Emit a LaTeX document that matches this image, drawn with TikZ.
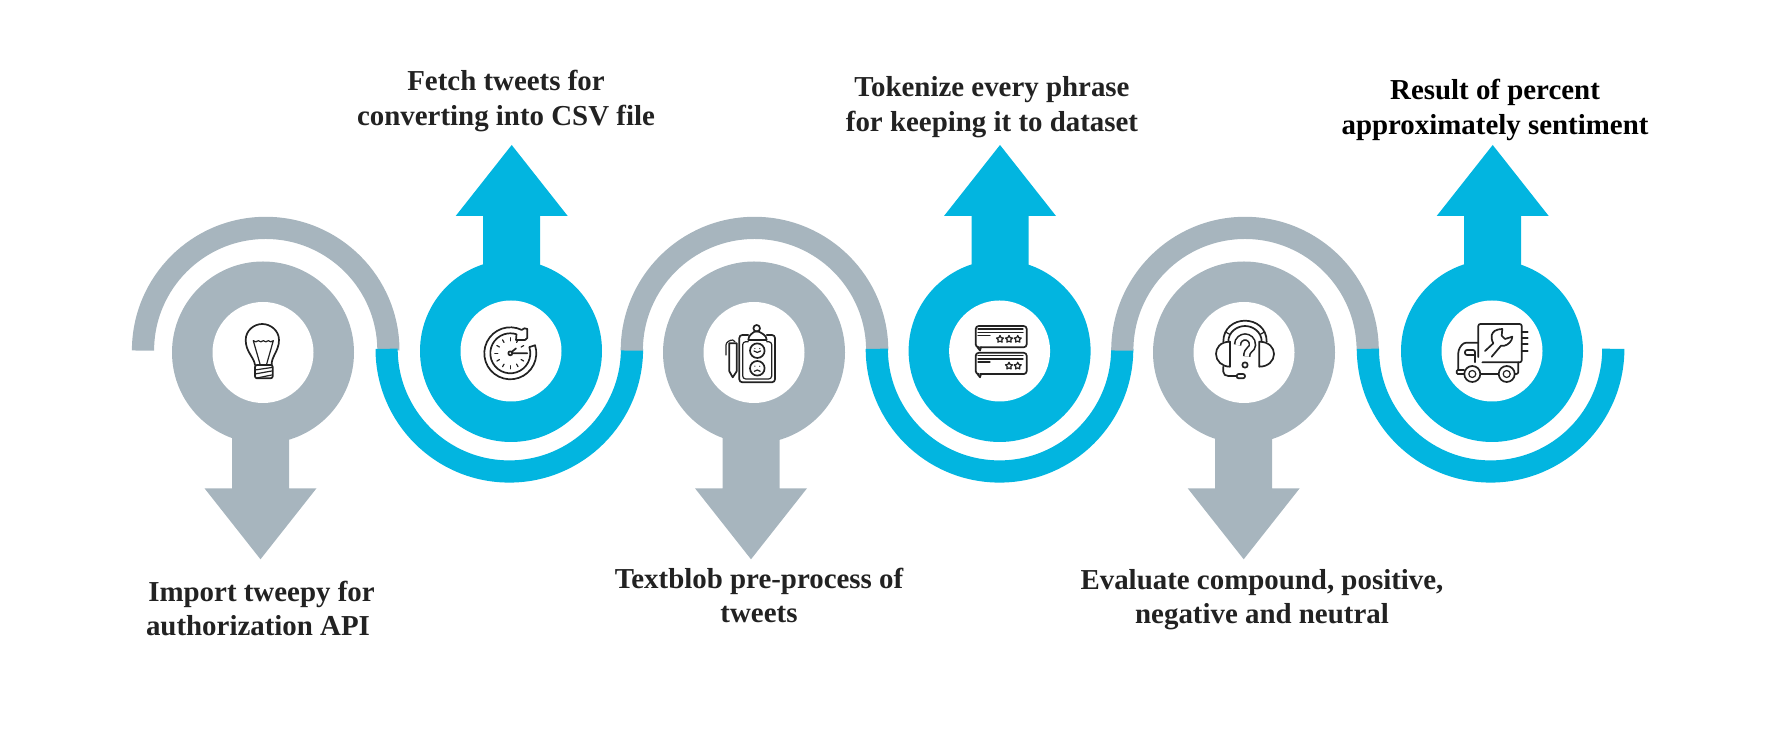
\documentclass[tikz,border=0pt]{standalone}
\usepackage{fontspec}
\setmainfont{Liberation Serif}
\usetikzlibrary{positioning, calc}
\definecolor{slate}{RGB}{167, 181, 190}
\definecolor{sky}{RGB}{2, 181, 224}
\definecolor{ink}{RGB}{34, 34, 34}

\tikzset{
  disc/.style={circle, minimum size=182pt, inner sep=0pt},
  hole/.style={circle, fill=white, minimum size=101pt, inner sep=0pt},
  ring/.style={line width=22.2pt},
  caption/.style={align=center, text=ink, font=\fontsize{28.9}{34.6}\selectfont\bfseries, inner sep=0pt},
  icon/.style={draw=ink, line width=1.7pt, line cap=round, line join=round},
  thinicon/.style={draw=ink, line width=1.2pt, line cap=round, line join=round}
}

\begin{document}
\begin{tikzpicture}[x=1pt, y=1pt]
        \useasboundingbox (0,0) rectangle (1792,733);
        \pgfmathsetmacro{\r}{122.7}

        % Import
        \pgfmathsetmacro{\dx}{263}
        \draw[slate, ring] (265.7 + \r, 382.4) arc (0:180:\r);
        \node[disc, fill=slate] (discA) at (\dx, 380.5) {};
        \fill[slate] (\dx - 2.5 - 28.5, 320) -- (\dx - 2.5 + 28.5, 320) -- (\dx - 2.5 + 28.5, 244.7) -- (\dx - 2.5 + 56, 244.7)
        -- (\dx - 2.5, 173.7) -- (\dx - 2.5 - 56, 244.7) -- (\dx - 2.5 - 28.5, 244.7) -- cycle;
        \node[hole] (holeA) at (discA) {};

        % Fetch
        \pgfmathsetmacro{\dx}{511}
        \draw[sky, ring] (509.3 - \r, 384.2) arc (180:360:\r);
        \node[disc, fill=sky] (discB) at (\dx, 382) {};
        \fill[sky] (\dx + 0.7 - 28.5, 443) -- (\dx + 0.7 + 28.5, 443) -- (\dx + 0.7 + 28.5, 517) -- (\dx + 0.7 + 56, 517)
        -- (\dx + 0.7, 588) -- (\dx + 0.7 - 56, 517) -- (\dx + 0.7 - 28.5, 517) -- cycle;
        \node[hole] (holeB) at (discB) {};

        % Textblob
        \pgfmathsetmacro{\dx}{754}
        \draw[slate, ring] (754.5 + \r, 382.4) arc (0:180:\r);
        \node[disc, fill=slate] (discC) at (\dx, 380.5) {};
        \fill[slate] (\dx - 3 - 28.5, 320) -- (\dx - 3 + 28.5, 320) -- (\dx - 3 + 28.5, 244.7) -- (\dx - 3 + 56, 244.7)
        -- (\dx - 3, 173.7) -- (\dx - 3 - 56, 244.7) -- (\dx - 3 - 28.5, 244.7) -- cycle;
        \node[hole] (holeC) at (discC) {};

        % Tokenize
        \pgfmathsetmacro{\dx}{999.6}
        \draw[sky, ring] (999.5 - \r, 384.2) arc (180:360:\r);
        \node[disc, fill=sky] (discD) at (\dx, 382) {};
        \fill[sky] (\dx + 0.4 - 28.5, 443) -- (\dx + 0.4 + 28.5, 443) -- (\dx + 0.4 + 28.5, 517) -- (\dx + 0.4 + 56, 517)
        -- (\dx + 0.4, 588) -- (\dx + 0.4 - 56, 517) -- (\dx + 0.4 - 28.5, 517) -- cycle;
        \node[hole] (holeD) at (discD) {};

        % Evaluate
        \pgfmathsetmacro{\dx}{1244}
        \draw[slate, ring] (1245 + \r, 382.4) arc (0:180:\r);
        \node[disc, fill=slate] (discE) at (\dx, 380.5) {};
        \fill[slate] (\dx - 0.3 - 28.5, 320) -- (\dx - 0.3 + 28.5, 320) -- (\dx - 0.3 + 28.5, 244.7) -- (\dx - 0.3 + 56, 244.7)
        -- (\dx - 0.3, 173.7) -- (\dx - 0.3 - 56, 244.7) -- (\dx - 0.3 - 28.5, 244.7) -- cycle;
        \node[hole] (holeE) at (discE) {};

        % Result
        \pgfmathsetmacro{\dx}{1492}
        \draw[sky, ring] (1490.6 - \r, 384.2) arc (180:360:\r);
        \node[disc, fill=sky] (discF) at (\dx, 382) {};
        \fill[sky] (\dx + 0.7 - 28.5, 443) -- (\dx + 0.7 + 28.5, 443) -- (\dx + 0.7 + 28.5, 517) -- (\dx + 0.7 + 56, 517)
        -- (\dx + 0.7, 588) -- (\dx + 0.7 - 56, 517) -- (\dx + 0.7 - 28.5, 517) -- cycle;
        \node[hole] (holeF) at (discF) {};

        % Bulb
        \begin{scope}[shift={(263,381)}]
        \draw[icon] (-8,-13) .. controls (-9,-5) and (-17.3,0) .. (-17.3,12) .. controls (-17.3,21.5) and (-9,28) .. (-0.7,28)
        .. controls (7.5,28) and (16,21.5) .. (16,12) .. controls (16,1) and (8,-5) .. (8.7,-13);
        \draw[thinicon] (-3,-12) -- (-9.7,11.3) to[bend right=50] (-4.7,11.3) to[bend right=50] (0.3,11.3) to[bend right=50] (5.3,11.3) to[bend right=50] (10.3,11.3) -- (3.7,-12);
        \draw[icon, rounded corners=2pt] (-8,-13) rectangle (9.7,-26.3);
        \draw[thinicon] (-8,-18) -- (8.7,-15.5) (-8,-22) -- (8.7,-19) (-6,-26) -- (8.7,-23);
        \end{scope}

        % Clock
        \begin{scope}[shift={(511,382)}]
        \draw[icon] (-0.7,-2.3) ++(64:26) arc (64:378:26) -- ++(198:6) arc (378:72:20) -- (5,11) -- (14,11) -- (16.3,13) -- (16.3,22) -- (13.5,22.7) -- cycle;
        \foreach \a in {30,60,...,330}
            \draw[thinicon] (-0.7,-2.3) ++(\a:12.5) -- ++(\a:3);
        \draw[icon] (-0.7,-2.3) circle (2);
        \draw[icon] (1.3,-2.3) -- (16.3,-2.3) (0.7,-0.9) -- (5,2.6);
        \end{scope}

        % Clipboard
        \begin{scope}[shift={(754,381)}]
        \draw[icon, rounded corners=3pt] (-5.7,17) -- (-14.7,17) -- (-14.7,-30.3) -- (21,-30.3) -- (21,17) -- (12.7,17);
        \draw[thinicon, rounded corners=3pt] (-5.7,10.3) -- (-11.3,10.3) -- (-11.3,-27) -- (17.7,-27) -- (17.7,10.3) -- (12.7,10.3);
        \draw[icon] (-5.7,12) .. controls (-5.7,17) and (-1,19) .. (0,20) .. controls (1,21) and (4,21) .. (5.5,20) .. controls (7,19) and (12.7,17) .. (12.7,12) -- cycle;
        \draw[icon] (2.7,23.7) circle (3.3);
        \draw[icon] (3.3,1.3) circle (7.3);
        \draw[icon] (3.3,-16.3) circle (7.3);
        \draw[thinicon] (0,1) to[bend right=50] (6.6,1) (0.8,3.4) -- (0.9,3.4) (5.7,3.4) -- (5.8,3.4);
        \draw[thinicon] (0.4,-19.3) to[bend left=50] (6.2,-19.3) (0.8,-14.2) -- (0.9,-14.2) (5.7,-14.2) -- (5.8,-14.2);
        \draw[icon] (-24.7,8.7) -- (-24.7,-19.3) -- (-21.3,-25.3) -- (-17.3,-19.3) -- (-17.3,8.7) -- cycle;
        \draw[thinicon] (-28,-3) -- (-28,7) .. controls (-28,10) and (-24,12) .. (-21.3,12) -- (-19,10.3);
        \end{scope}

        % Reviews
        \begin{scope}[shift={(1000,382)}]
        \foreach \y in {0,-26.8} {
            \draw[icon, rounded corners=3pt] (-20,3.7 + \y) -- (26.7,3.7 + \y) -- (26.7,25 + \y) -- (-24.3,25 + \y) -- (-24.3,3.7 + \y) -- (-22.5,3.7 + \y);
            \draw[icon] (-22.5,3.7 + \y) -- (-20,0.5 + \y) -- (-19,3.7 + \y);
            \draw[thinicon] (-22,22 + \y) -- (23,22 + \y) (-22,18.8 + \y) -- (23,18.8 + \y) (-22,15.7 + \y) -- (-10,15.7 + \y);
        }
        \foreach \x/\y in {0/11.8, 9/11.8, 17.7/11.8, 9/-15, 17.7/-15}
            \draw[thinicon] (\x,\y) +(90:3.7) -- +(126:1.9) -- +(162:3.7) -- +(198:1.9) -- +(234:3.7) -- +(270:1.9) -- +(306:3.7) -- +(342:1.9) -- +(18:3.7) -- +(54:1.9) -- cycle;
        \end{scope}

        % Headset
        \begin{scope}[shift={(1244,381)}]
        \draw[icon] (-14,10.3) .. controls (-24,10.3) and (-28,4) .. (-28,-2) .. controls (-28,-9) and (-22,-14.7) .. (-14,-14.7) -- cycle;
        \draw[icon] (15.3,10.3) .. controls (25.3,10.3) and (30,4) .. (30,-2) .. controls (30,-9) and (24,-14.7) .. (15.3,-14.7) -- cycle;
        \draw[icon] (-20.7,10.3) .. controls (-20.7,24) and (-10,31.3) .. (1,31.3) .. controls (12,31.3) and (22.7,24) .. (22.7,10.3);
        \draw[icon] (-15.7,10.3) .. controls (-15.7,20) and (-7,26) .. (1,26) .. controls (9,26) and (17.7,20) .. (17.7,10.3);
        \draw[thinicon] (-18.5,20) -- (-14,17.5) (20.5,20) -- (16,17.5);
        \draw[draw=ink, line width=7.5pt] (-6.5,7) .. controls (-6.5,12.5) and (-2,15) .. (1,15) .. controls (4.5,15) and (8.5,12.5) .. (8.5,7) .. controls (8.5,2.5) and (2.7,3) .. (2.7,-4.5);
        \draw[draw=white, line width=4.3pt] (-6.5,7) .. controls (-6.5,12.5) and (-2,15) .. (1,15) .. controls (4.5,15) and (8.5,12.5) .. (8.5,7) .. controls (8.5,2.5) and (2.7,3) .. (2.7,-4.5);
        \draw[icon] (1,-13) circle (2.7);
        \draw[icon] (-20.7,-14.7) -- (-20.7,-19.7) .. controls (-20.7,-22.5) and (-18.5,-24) .. (-15.7,-24) -- (-7.3,-24);
        \draw[icon, rounded corners=2pt] (-7.3,-22) rectangle (1,-26.3);
        \end{scope}

        % Truck
        \begin{scope}[shift={(1492,382)}]
        \draw[icon, rounded corners=2pt] (-13.7,-6) -- (-13.7,27) -- (29.7,27) -- (29.7,-11.3) -- (-9.7,-11.3);
        \draw[icon] (29.7,19.3) -- (35.7,19.3) (29.7,12.7) -- (35.7,12.7) (29.7,6.7) -- (35.7,6.7) (29.7,0.3) -- (35.7,0.3);
        \draw[icon, rounded corners=3pt] (-13.7,8.3) -- (-28.7,8.3) -- (-33.7,1) -- (-33.7,-19);
        \draw[icon, rounded corners=1pt] (-33.7,-19) -- (-35.3,-19) -- (-35.3,-23) -- (-28,-23) (-33.7,-19) -- (-28,-19);
        \draw[icon, rounded corners=2pt] (-17,-11.3) -- (-17,1) -- (-27,1) -- (-27,-4) -- (-17,-4);
        \draw[icon] (-19.7,-23) circle (8);
        \draw[thinicon] (-19.7,-23) circle (3.5);
        \draw[icon] (14.7,-23) circle (8);
        \draw[thinicon] (14.7,-23) circle (3.5);
        \draw[icon] (-11.3,-23) -- (6.3,-23);
        \draw[icon, rounded corners=2pt] (23,-23) -- (26.3,-23) -- (26.3,-11.3);
        \draw[icon] (-7,0) -- (1.3,7.7) .. controls (-0.5,11) and (-0.5,13) .. (-0.3,16) .. controls (1,19.5) and (3,21.5) .. (10.3,22) -- (9.7,15.3) -- (13,12) -- (20.3,14.3) .. controls (20.3,10) and (16,6) .. (12.3,5.3) -- (9,5.3) -- (-0.3,-5.7);
        \end{scope}

        % Captions
        \node[caption] (capA) at (261.5, 124.5) {Import tweepy for\\authorization API\kern7pt};
        \node[caption] (capB) at (506, 632) {Fetch tweets for\\converting into CSV file};
        \node[caption] (capC) at (759, 137.5) {Textblob pre-process of\\tweets};
        \node[caption] (capD) at (992, 626) {Tokenize every phrase\\for keeping it to dataset};
        \node[caption] (capE) at (1262, 133.5) {Evaluate compound, positive,\\negative and neutral};
        \node[caption, text=black] (capF) at (1495, 623) {Result of percent\\approximately sentiment};
\end{tikzpicture}
\end{document}
